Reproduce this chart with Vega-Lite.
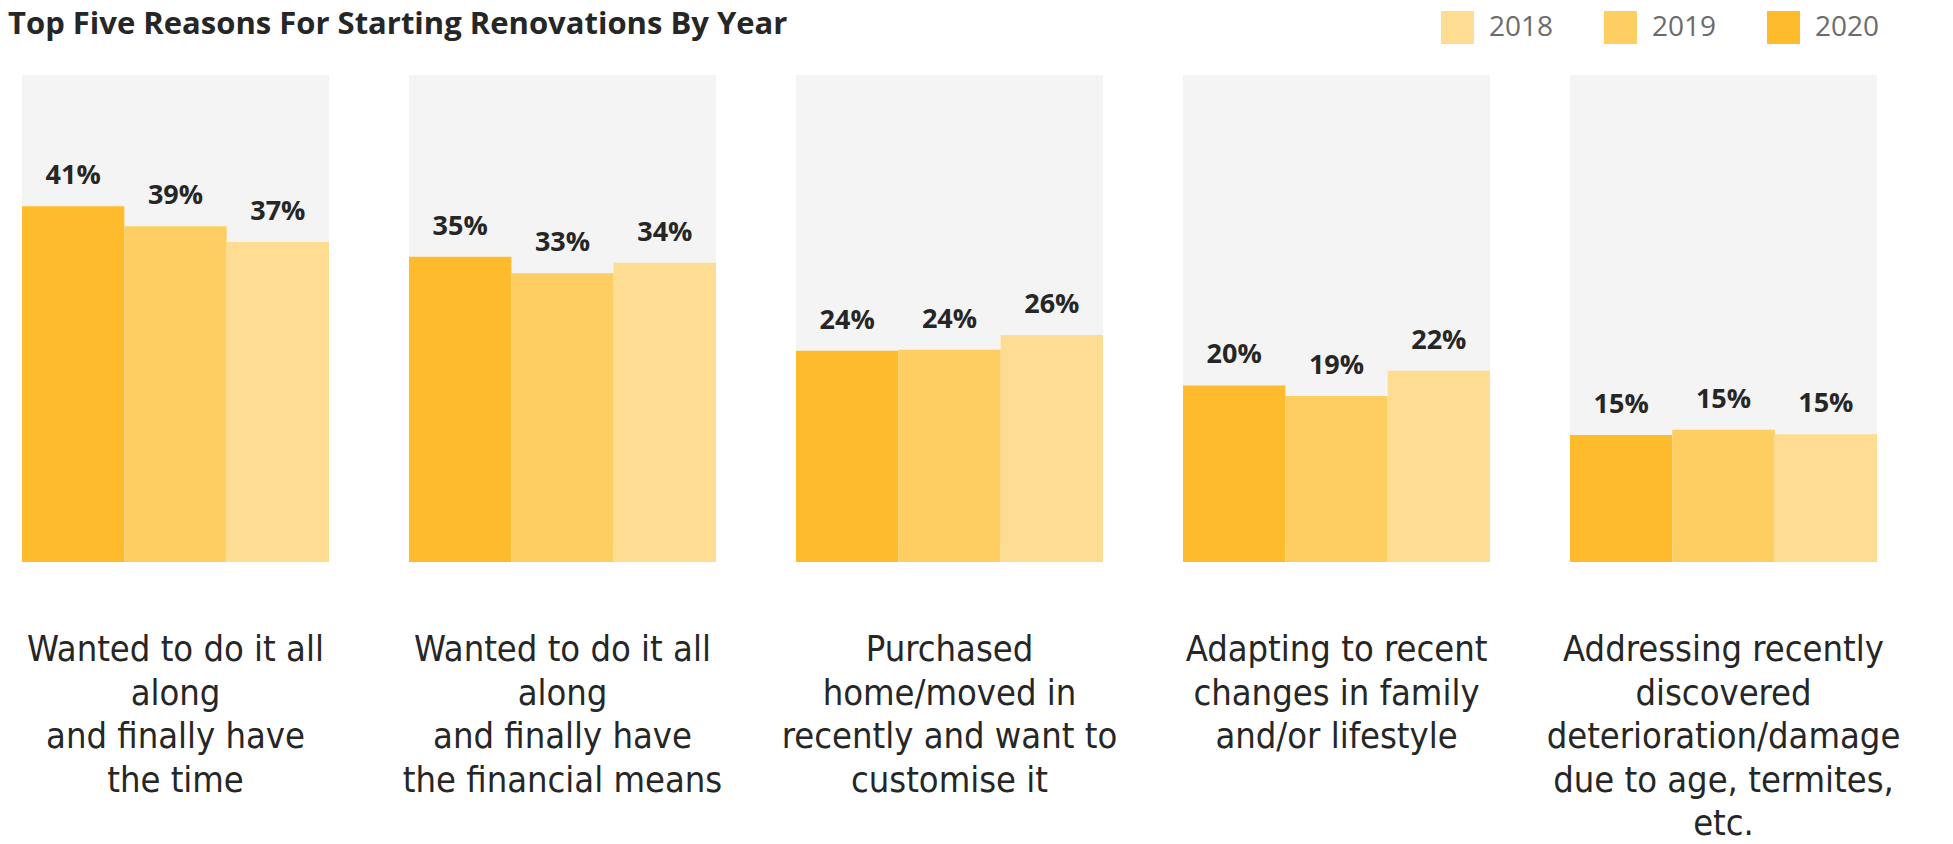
{
  "$schema": "https://vega.github.io/schema/vega-lite/v6.json",
  "background": "white",
  "padding": {"left": 8, "top": 8, "right": 0, "bottom": 0},
  "title": {
    "text": "Top Five Reasons For Starting Renovations By Year",
    "anchor": "start",
    "frame": "group",
    "dx": -14,
    "dy": 29.5,
    "offset": 0,
    "font": "Open Sans",
    "fontSize": 31,
    "fontWeight": "bold",
    "color": "#262626"
  },
  "data": {
    "values": [
      {"reason": "Wanted to do it all|along|and finally have|the time", "year": "2020", "value": 0.409},
      {"reason": "Wanted to do it all|along|and finally have|the time", "year": "2019", "value": 0.386},
      {"reason": "Wanted to do it all|along|and finally have|the time", "year": "2018", "value": 0.368},
      {"reason": "Wanted to do it all|along|and finally have|the financial means", "year": "2020", "value": 0.351},
      {"reason": "Wanted to do it all|along|and finally have|the financial means", "year": "2019", "value": 0.332},
      {"reason": "Wanted to do it all|along|and finally have|the financial means", "year": "2018", "value": 0.344},
      {"reason": "Purchased|home/moved in|recently and want to|customise it", "year": "2020", "value": 0.243},
      {"reason": "Purchased|home/moved in|recently and want to|customise it", "year": "2019", "value": 0.244},
      {"reason": "Purchased|home/moved in|recently and want to|customise it", "year": "2018", "value": 0.261},
      {"reason": "Adapting to recent|changes in family|and/or lifestyle", "year": "2020", "value": 0.203},
      {"reason": "Adapting to recent|changes in family|and/or lifestyle", "year": "2019", "value": 0.191},
      {"reason": "Adapting to recent|changes in family|and/or lifestyle", "year": "2018", "value": 0.22},
      {"reason": "Addressing recently|discovered|deterioration/damage|due to age, termites,|etc.", "year": "2020", "value": 0.146},
      {"reason": "Addressing recently|discovered|deterioration/damage|due to age, termites,|etc.", "year": "2019", "value": 0.152},
      {"reason": "Addressing recently|discovered|deterioration/damage|due to age, termites,|etc.", "year": "2018", "value": 0.147}
    ]
  },
  "facet": {
    "column": {
      "field": "reason",
      "type": "nominal",
      "sort": [
        "Wanted to do it all|along|and finally have|the time",
        "Wanted to do it all|along|and finally have|the financial means",
        "Purchased|home/moved in|recently and want to|customise it",
        "Adapting to recent|changes in family|and/or lifestyle",
        "Addressing recently|discovered|deterioration/damage|due to age, termites,|etc."
      ],
      "header": {
        "title": null,
        "labelOrient": "bottom",
        "labelExpr": "split(datum.value, '|')",
        "labelFont": "DejaVu Sans Condensed",
        "labelFontSize": 36,
        "labelLineHeight": 43.5,
        "labelColor": "#262626",
        "labelBaseline": "top",
        "labelAlign": "center",
        "labelPadding": 70,
        "labelLimit": 0
      }
    }
  },
  "spacing": 80,
  "spec": {
    "width": 307,
    "height": 471,
    "encoding": {
      "x": {
        "field": "year",
        "type": "nominal",
        "sort": ["2020", "2019", "2018"],
        "axis": null,
        "scale": {"paddingInner": 0, "paddingOuter": 0}
      },
      "y": {
        "field": "value",
        "type": "quantitative",
        "axis": null,
        "scale": {"domain": [0.0184, 0.56]}
      }
    },
    "layer": [
      {
        "mark": {"type": "bar"},
        "encoding": {
          "color": {
            "field": "year",
            "type": "nominal",
            "scale": {"domain": ["2018", "2019", "2020"], "range": ["#FEDC91", "#FECE62", "#FEBC2C"]},
            "legend": {
              "title": null,
              "orient": "none",
              "direction": "horizontal",
              "legendX": 1419,
              "legendY": -64,
              "symbolType": "square",
              "symbolSize": 1089,
              "symbolStrokeWidth": 0,
              "symbolOpacity": 1,
              "labelFont": "Open Sans",
              "labelFontSize": 28,
              "labelColor": "#6b6b6b",
              "labelOffset": 15,
              "columnPadding": 50
            }
          }
        }
      },
      {
        "mark": {
          "type": "text",
          "dy": -22,
          "baseline": "alphabetic",
          "font": "Open Sans",
          "fontWeight": "bold",
          "fontSize": 27,
          "color": "#262626"
        },
        "encoding": {
          "text": {"field": "value", "type": "quantitative", "format": ".0%"}
        }
      }
    ]
  },
  "config": {
    "view": {"fill": "#F4F4F4", "stroke": null}
  }
}
